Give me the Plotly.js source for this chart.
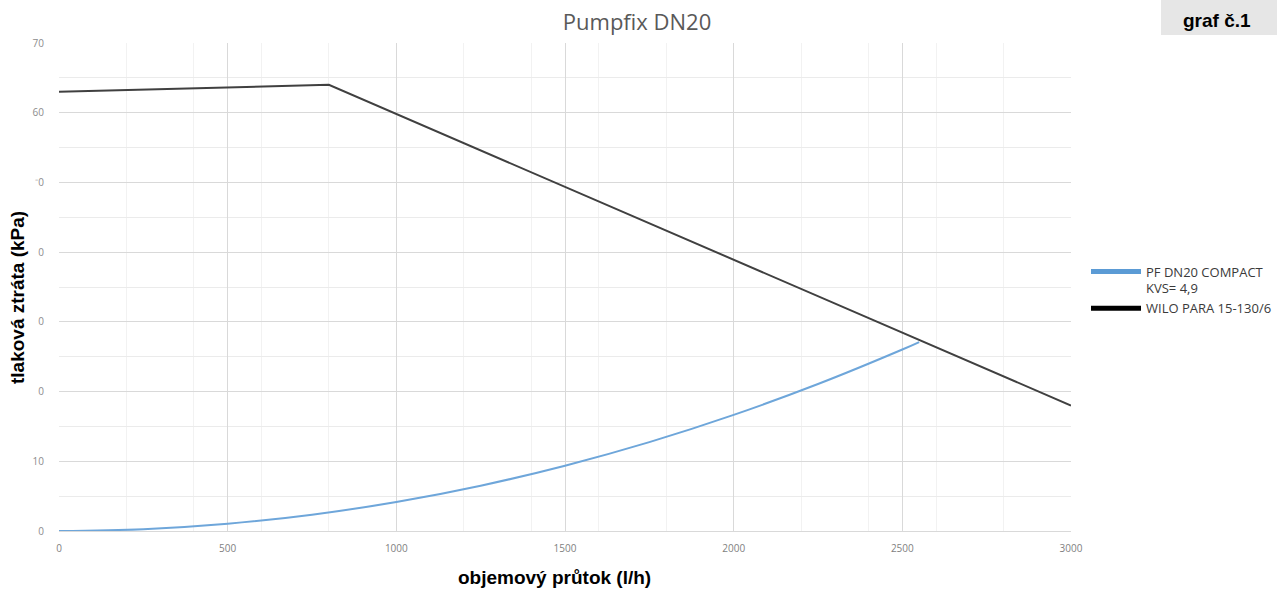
<!DOCTYPE html>
<html>
<head>
<meta charset="utf-8">
<script src="https://cdn.plot.ly/plotly-3.0.1.min.js"></script>
<style>
html,body{margin:0;padding:0;background:#fff;}
#chart{width:1280px;height:590px;}
</style>
</head>
<body>
<div id="chart"></div>
<script>
// Data
const pfFlow = [0, 250, 500, 750, 1000, 1250, 1500, 1750, 2000, 2250, 2500, 2550];
const pfLoss = [0, 0.26, 1.04, 2.34, 4.16, 6.5, 9.37, 12.75, 16.66, 21.08, 26.03, 27.1];
const wiloFlow = [0, 800, 3000];
const wiloHead = [63, 64, 18];
const yTickVals = [0, 10, 20, 30, 40, 50, 60, 70];
const yTickText = ["0", "10", "0", "0", "0", "\u207B0", "60", "70"];
const xTickVals = [0, 500, 1000, 1500, 2000, 2500, 3000];
const xTickText = ["0", "500", "1000", "1500", "2000", "2500", "3000"];
const seriesNames = ["PF DN20 COMPACT<br>KVS= 4,9", "WILO PARA 15-130/6"];

const blue = "#6ea6da";
const dark = "#404040";

const traces = [
  {x: pfFlow, y: pfLoss, mode: "lines", line: {color: blue, width: 2, shape: "spline"}, showlegend: false, hoverinfo: "skip"},
  {x: wiloFlow, y: wiloHead, mode: "lines", line: {color: dark, width: 2}, showlegend: false, hoverinfo: "skip"},
  {x: [null], y: [null], mode: "lines", name: seriesNames[0], line: {color: "#5b9bd5", width: 5}},
  {x: [null], y: [null], mode: "lines", name: seriesNames[1], line: {color: "#000000", width: 5}}
];

const layout = {
  width: 1280, height: 590,
  margin: {l: 59, r: 209, t: 43, b: 59, autoexpand: false},
  paper_bgcolor: "#ffffff", plot_bgcolor: "#ffffff",
  showlegend: true,
  legend: {xref: "container", yref: "container", x: 1086/1280, xanchor: "left", y: 1 - 290/590, yanchor: "middle", valign: "top",
    font: {family: "Open Sans, sans-serif", size: 13, color: "#3a3a3a"},
    itemwidth: 50, tracegroupgap: 0, bgcolor: "rgba(0,0,0,0)"},
  title: {text: "Pumpfix DN20", x: 637/1280, xanchor: "center", xref: "container", y: 1 - 22/590, yanchor: "middle", yref: "container",
    font: {family: "Open Sans, sans-serif", size: 22, color: "#595959"}},
  xaxis: {range: [0, 3000], tickvals: xTickVals, ticktext: xTickText, showline: true, linecolor: "#d9d9d9", linewidth: 1,
    showgrid: true, gridcolor: "#d9d9d9", gridwidth: 1, zeroline: false, ticks: "", ticklabelstandoff: 8,
    tickfont: {family: "Open Sans, sans-serif", size: 10, color: "#7f7f7f"},
    minor: {dtick: 200, showgrid: true, gridcolor: "#f2f2f2", gridwidth: 1}, fixedrange: true},
  yaxis: {range: [0, 70], tickvals: yTickVals, ticktext: yTickText, showline: false, showgrid: true,
    gridcolor: "#d9d9d9", gridwidth: 1, zeroline: false, ticks: "", ticklabelstandoff: 14,
    tickfont: {family: "Open Sans, sans-serif", size: 10, color: "#8c8c8c"},
    minor: {dtick: 5, showgrid: true, gridcolor: "#ebebeb", gridwidth: 1}, fixedrange: true},
  shapes: [
    {type: "rect", xref: "paper", yref: "paper", x0: (1161-59)/1012, x1: (1277-59)/1012, y0: 1 + 8/488, y1: 1 + 43/488,
      fillcolor: "#e6e6e6", line: {width: 0}, layer: "below"}
  ],
  annotations: [
    {text: "<b>graf č.1</b>", xref: "paper", yref: "paper", x: (1217-59)/1012, y: 1 + 22/488, xanchor: "center", yanchor: "middle",
      showarrow: false, font: {family: "Liberation Sans, Arial, sans-serif", size: 19, color: "#000"}},
    {text: "<b>objemový průtok (l/h)</b>", xref: "paper", yref: "paper", x: (554-59)/1012, y: -(46)/488, xanchor: "center", yanchor: "middle",
      showarrow: false, font: {family: "Liberation Sans, Arial, sans-serif", size: 19, color: "#000"}},
    {text: "<b>tlaková ztráta (kPa)</b>", xref: "paper", yref: "paper", x: -(42)/1012, y: (531-298)/488, xanchor: "center", yanchor: "middle",
      textangle: -90, showarrow: false, font: {family: "Liberation Sans, Arial, sans-serif", size: 19, color: "#000"}}
  ]
};

Plotly.newPlot("chart", traces, layout, {displayModeBar: false, staticPlot: true});
</script>
</body>
</html>
